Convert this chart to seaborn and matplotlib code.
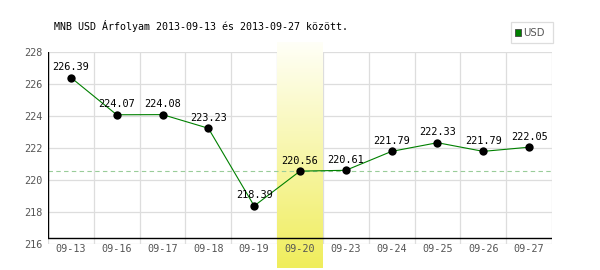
import numpy as np
import pandas as pd
import matplotlib
matplotlib.use("Agg")
import matplotlib.pyplot as plt
import seaborn as sns
from matplotlib.patches import Rectangle

dates = ["09-13", "09-16", "09-17", "09-18", "09-19", "09-20",
         "09-23", "09-24", "09-25", "09-26", "09-27"]
values = [226.39, 224.07, 224.08, 223.23, 218.39, 220.56,
          220.61, 221.79, 222.33, 221.79, 222.05]
highlight_index = 5
reference_value = 220.56
y_ticks = [216, 218, 220, 222, 224, 226, 228]
title = "MNB USD Árfolyam 2013-09-13 és 2013-09-27 között."
series_name = "USD"

df = pd.DataFrame({"pos": np.arange(len(dates)), "value": values})

sns.set_style("white")
plt.rcParams['font.family'] = ['DejaVu Sans Mono', 'DejaVu Sans']

fig = plt.figure(figsize=(6, 2.7), dpi=100)
ax = fig.add_axes([48 / 600, 1 - 244.3 / 270, 504 / 600, (244.3 - 51.7) / 270])
ax.set_axisbelow(False)

ymin, ymax = y_ticks[0], y_ticks[-1]
px = (ymax - ymin) / (244.3 - 51.7)  # data units per pixel

# highlighted column gradient
grad = np.linspace(0, 1, 256).reshape(-1, 1)
top = np.array([1.0, 1.0, 0.97])
bot = np.array([0.94, 0.93, 0.36])
img = top + (bot - top) * grad[..., None]
img = img.reshape(256, 1, 3)
ax.imshow(img, extent=(highlight_index - 0.5, highlight_index + 0.5,
                       ymin - (268 - 244.3) * px, ymax + (51.7 - 42) * px),
          aspect='auto', origin='upper', clip_on=False, zorder=1,
          interpolation='bilinear')

# grid
for y in y_ticks:
    ax.axhline(y, color="#dddddd", lw=0.9, zorder=0.5)
for i in range(len(dates) + 1):
    ax.axvline(i - 0.5, color="#dddddd", lw=0.9, zorder=0.5)

# reference dashed line
ax.axhline(reference_value, color="#99cc99", lw=0.8, ls=(0, (4, 3)), zorder=2)

sns.lineplot(data=df, x="pos", y="value", color="#008000", lw=0.8, ax=ax, zorder=3)
sns.scatterplot(data=df, x="pos", y="value", color="black", s=36, ax=ax,
                zorder=4, edgecolor="black", linewidth=0)

for x, v in zip(df["pos"], df["value"]):
    ax.annotate(f"{v:.2f}", (x, v), textcoords="offset points", xytext=(0, 7.6),
                ha="center", va="center", fontsize=7.4, color="black", zorder=5)

# axis lines
base = ymin + (244.3 - 238) * px
ax.axhline(base, color="black", lw=1.0, zorder=3)
ax.axvline(-0.5, ymin=(base - ymin) / (ymax - ymin), ymax=1, color="black", lw=1.0, zorder=3)

ax.set_xlim(-0.5, len(dates) - 0.5)
ax.set_ylim(ymin, ymax)
ax.set_xticks(df["pos"])
ax.set_xticklabels(dates)
ax.set_yticks(y_ticks)
ax.set_yticklabels([str(t) for t in y_ticks])
ax.tick_params(axis="both", length=0, labelsize=7.3, colors="#555555")
ax.tick_params(axis="x", pad=0)
ax.tick_params(axis="y", pad=4)
ax.set_xlabel("")
ax.set_ylabel("")
for s in ax.spines.values():
    s.set_visible(False)

fig.text(54 / 600, 1 - 26 / 270, title, ha="left", va="center",
         fontsize=7.2, color="black")

# legend
fig.patches.append(Rectangle((511 / 600, 1 - 43 / 270), 42 / 600, 21 / 270,
                             transform=fig.transFigure, facecolor="white",
                             edgecolor="#dddddd", lw=0.9))
fig.patches.append(Rectangle((515 / 600, 1 - 36 / 270), 6 / 600, 7 / 270,
                             transform=fig.transFigure, facecolor="#008000",
                             edgecolor="#444444", lw=0.6))
fig.text(523 / 600, 1 - 32.5 / 270, series_name, ha="left", va="center",
         fontsize=7.3, color="#555555", family=["DejaVu Sans"])

fig.savefig("out.png", dpi=100)
